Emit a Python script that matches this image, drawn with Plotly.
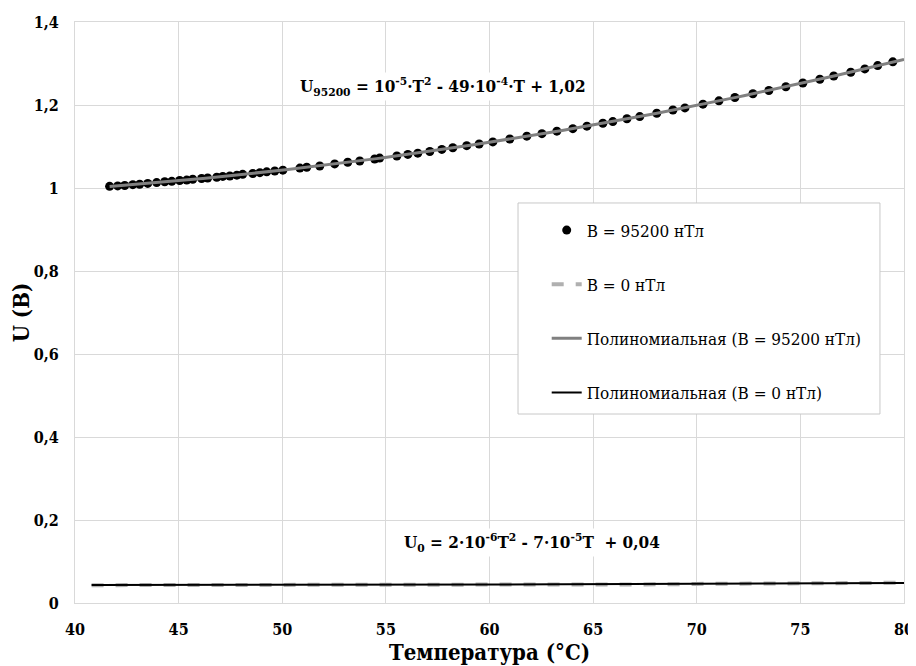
import numpy as np
import plotly.graph_objects as go

# Data: B = 95200 nT
T_95200 = [41.67, 42.06, 42.40, 42.79, 43.12, 43.51, 43.94, 44.33, 44.67, 45.05,
           45.39, 45.68, 46.11, 46.40, 46.84, 47.13, 47.47, 47.81, 48.09, 48.58,
           48.92, 49.25, 49.64, 50.03, 50.85, 51.18, 51.81, 52.53, 53.16, 53.74,
           54.46, 54.70, 55.53, 56.06, 56.54, 57.12, 57.70, 58.23, 58.90, 59.50,
           60.16, 60.98, 61.80, 62.53, 63.25, 64.02, 64.70, 65.47, 65.95, 66.63,
           67.25, 68.07, 68.85, 69.43, 70.30, 71.07, 71.84, 72.71, 73.48, 74.30,
           75.12, 75.94, 76.61, 77.43, 78.11, 78.73, 79.46]
U_95200 = [1.004, 1.005, 1.006, 1.008, 1.009, 1.011, 1.013, 1.015, 1.016, 1.018,
           1.019, 1.021, 1.023, 1.024, 1.026, 1.028, 1.029, 1.031, 1.033, 1.035,
           1.037, 1.039, 1.041, 1.043, 1.048, 1.050, 1.053, 1.058, 1.062, 1.065,
           1.070, 1.072, 1.077, 1.081, 1.084, 1.088, 1.093, 1.097, 1.102, 1.106,
           1.111, 1.118, 1.125, 1.131, 1.137, 1.143, 1.149, 1.156, 1.160, 1.167,
           1.172, 1.180, 1.188, 1.193, 1.202, 1.210, 1.218, 1.227, 1.235, 1.244,
           1.253, 1.262, 1.270, 1.279, 1.287, 1.295, 1.304]

# Data: B = 0 nT
T_0 = [40.8, 42.0, 43.0, 44.0, 45.0, 46.0, 47.0, 48.0, 49.0, 50.0,
       51.0, 52.0, 53.0, 54.0, 55.0, 56.0, 57.0, 58.0, 59.0, 60.0,
       61.0, 62.0, 63.0, 64.0, 65.0, 66.0, 67.0, 68.0, 69.0, 70.0,
       71.0, 72.0, 73.0, 74.0, 75.0, 76.0, 77.0, 78.0, 79.0, 80.0]
U_0 = [0.043, 0.043, 0.043, 0.043, 0.043, 0.043, 0.043, 0.043, 0.044, 0.044,
       0.044, 0.044, 0.044, 0.044, 0.044, 0.044, 0.044, 0.044, 0.044, 0.045,
       0.045, 0.045, 0.045, 0.045, 0.045, 0.045, 0.045, 0.045, 0.045, 0.046,
       0.047, 0.047, 0.047, 0.047, 0.047, 0.047, 0.047, 0.048, 0.049, 0.049]

x_ticks = [40, 45, 50, 55, 60, 65, 70, 75, 80]
y_ticks = [0, 0.2, 0.4, 0.6, 0.8, 1.0, 1.2, 1.4]

names = ["B = 95200 нТл", "B = 0 нТл",
         "Полиномиальная (B = 95200 нТл)", "Полиномиальная (B = 0 нТл)"]

# polynomial trendlines (2nd order) fitted to data
c95 = np.polyfit(T_95200, U_95200, 2)
t95 = np.linspace(min(T_95200), 80, 120)
c0 = np.polyfit(T_0, U_0, 2)
t0 = np.linspace(min(T_0), 80, 120)

FONT = "DejaVu Serif Condensed"

fig = go.Figure()
fig.add_trace(go.Scatter(x=T_95200, y=U_95200, mode="markers", name=names[0],
                         marker=dict(color="black", size=9), legendgroup="a"))
fig.add_trace(go.Scatter(x=T_0, y=U_0, mode="lines", name=names[1],
                         line=dict(color="#b0b0b0", width=4, dash="dash"), legendgroup="b"))
fig.add_trace(go.Scatter(x=t95, y=np.polyval(c95, t95), mode="lines", name=names[2],
                         line=dict(color="#808080", width=3), legendgroup="c"))
fig.add_trace(go.Scatter(x=t0, y=np.polyval(c0, t0), mode="lines", name=names[3],
                         line=dict(color="black", width=2), legendgroup="d"))

fig.add_shape(type="rect", xref="paper", yref="paper",
              x0=0.5344, x1=0.971, y0=0.3253, y1=0.6885,
              line=dict(color="#c8c8c8", width=1), fillcolor="white", layer="above")

fig.add_annotation(x=0.444, y=0.914, xref="paper", yref="paper", showarrow=False,
                   text="<b>U<sub>95200</sub> = 10<sup>-5</sup>·T<sup>2</sup> - 49·10<sup>-4</sup>·T + 1,02</b>",
                   font=dict(family=FONT, size=17, color="black"),
                   bgcolor="white")
fig.add_annotation(x=0.551, y=0.080, xref="paper", yref="paper", showarrow=False,
                   text="<b>U<sub>0</sub> = 2·10<sup>-6</sup>T<sup>2</sup> - 7·10<sup>-5</sup>T  + 0,04</b>",
                   font=dict(family=FONT, size=17, color="black"),
                   bgcolor="white")

fig.update_layout(
    width=908, height=658,
    margin=dict(l=67, r=12, t=14, b=63, autoexpand=False),
    paper_bgcolor="white", plot_bgcolor="white",
    separators=", ",
    font=dict(family=FONT, color="black"),
    legend=dict(x=0.569, y=0.672, xanchor="left", yanchor="top",
                bgcolor="rgba(0,0,0,0)", borderwidth=0,
                font=dict(family=FONT, size=17, color="black"),
                tracegroupgap=29, traceorder="grouped", itemwidth=30),
    xaxis=dict(range=[40, 80], tickvals=x_ticks, showgrid=True, gridcolor="#d9d9d9",
               showline=True, linecolor="#d9d9d9", mirror=True, zeroline=False,
               ticks="", ticklabelstandoff=12, automargin=False,
               tickfont=dict(family=FONT, size=16, color="black", weight="bold"),
               title=dict(text="<b>Температура (°С)</b>", standoff=3,
                          font=dict(family=FONT, size=22, color="black"))),
    yaxis=dict(range=[0, 1.4], tickvals=y_ticks, showgrid=True, gridcolor="#d9d9d9",
               showline=True, linecolor="#d9d9d9", mirror=True, zeroline=False,
               ticks="", ticklabelstandoff=12, automargin=False,
               tickfont=dict(family=FONT, size=16, color="black", weight="bold"),
               title=dict(text="<b>U (B)</b>", standoff=2,
                          font=dict(family=FONT, size=22, color="black"))),
)

fig.write_html("out.html")
